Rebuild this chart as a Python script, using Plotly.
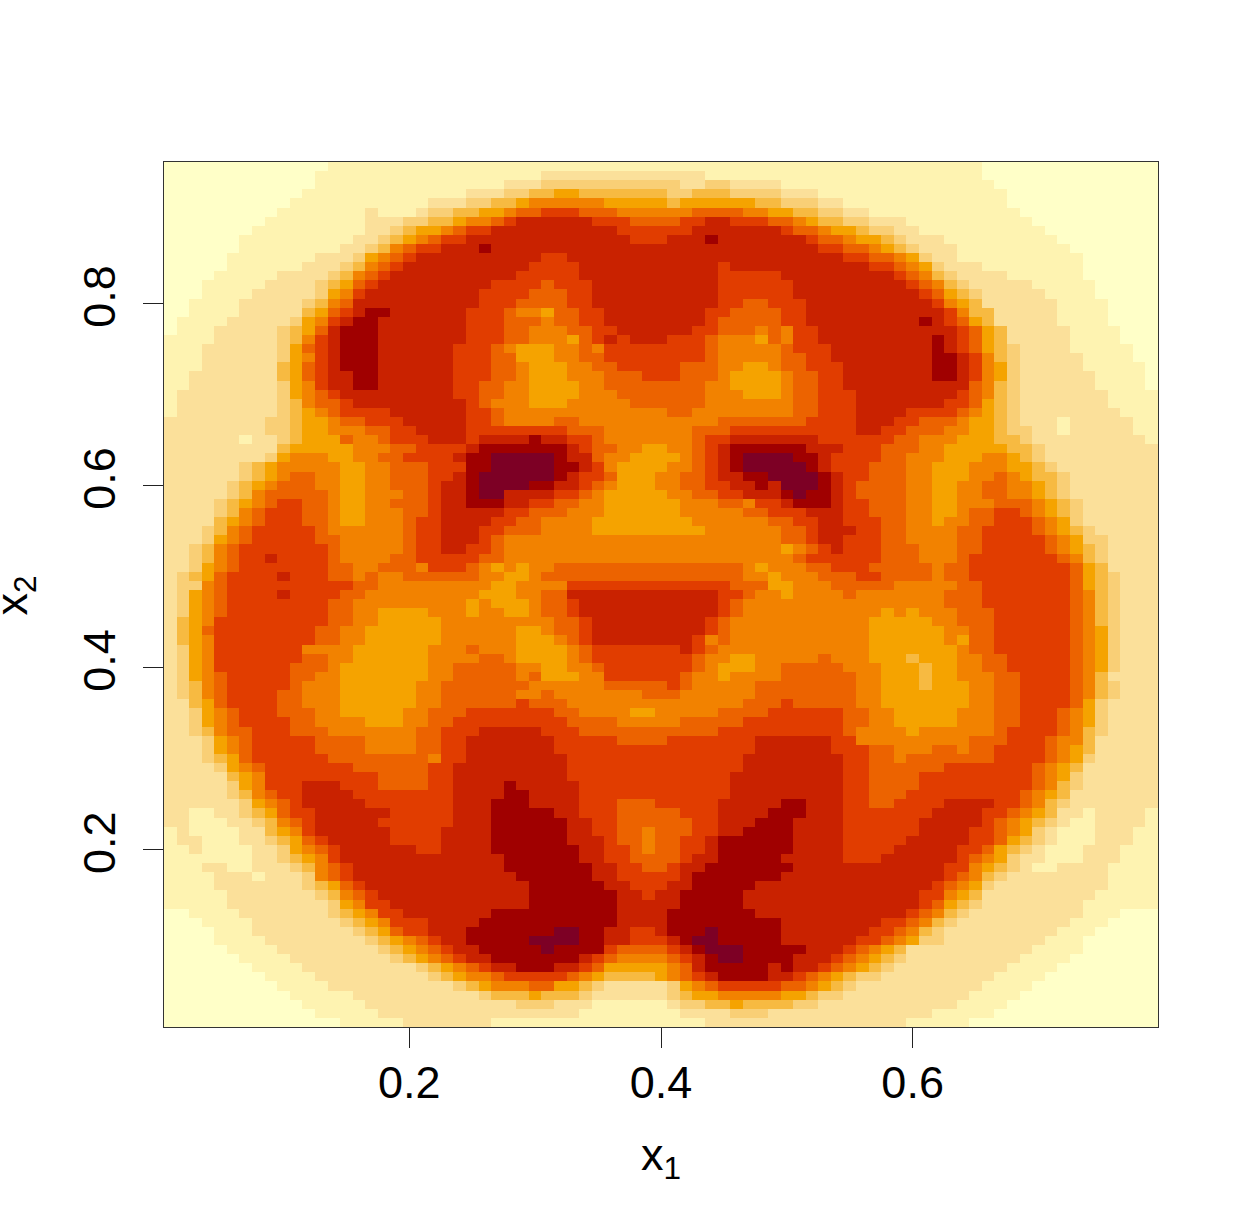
import plotly.graph_objects as go

# colour level per cell, row by row from the top
# each item is "first column:level" (levels 0-9, a, b), a run lasts until the next item
z_runs = [
"0:0 13:1 65:0",
"0:0 12:1 30:2 43:1 65:0",
"0:0 12:1 27:2 30:3 41:2 43:3 45:2 49:1 66:0",
"0:0 11:1 24:2 27:3 29:4 31:5 33:4 40:3 42:4 45:3 49:2 52:1 67:0",
"0:0 10:1 21:2 24:3 26:4 28:5 29:6 35:5 40:4 41:5 47:4 49:3 52:2 54:1 67:0",
"0:0 9:1 16:2 17:1 20:2 21:3 23:4 25:5 27:6 28:7 30:8 33:7 36:6 42:7 46:6 48:5 50:4 52:3 54:2 56:1 68:0",
"0:0 8:1 16:2 19:3 21:4 23:5 24:6 26:7 27:8 28:9 34:8 37:7 41:8 43:9 45:8 48:7 50:6 51:5 52:4 54:3 56:2 59:1 69:0",
"0:0 7:1 16:2 18:3 19:4 20:5 22:6 23:7 24:8 26:9 36:8 42:9 49:8 50:7 52:6 53:5 55:4 56:3 58:2 60:1 70:0",
"0:0 6:1 15:2 17:3 18:4 19:5 20:6 21:7 22:8 24:9 37:8 40:9 43:a 44:9 51:8 52:7 54:6 55:5 57:4 58:3 59:2 62:1 71:0",
"0:0 6:1 14:2 16:3 17:4 18:6 19:7 20:8 22:9 25:a 26:9 52:8 54:7 56:6 57:5 58:4 59:3 60:2 63:1 72:0",
"0:0 5:1 12:2 15:3 16:5 17:6 18:7 19:8 20:9 30:8 32:9 54:8 56:7 58:6 59:5 60:3 61:2 63:1 73:0",
"0:0 5:1 11:2 14:3 15:4 16:6 17:7 18:8 19:9 29:8 33:9 44:8 45:9 56:8 58:7 59:6 60:5 61:3 62:2 65:1 73:0",
"0:0 4:1 9:2 13:3 14:4 15:6 16:7 17:8 18:9 28:8 33:9 44:8 49:9 58:8 59:7 60:6 61:4 62:3 63:2 67:1 73:0",
"0:0 3:1 8:2 12:3 13:4 14:5 15:7 16:8 17:9 26:8 30:7 31:8 34:9 44:8 50:9 59:8 60:7 61:6 62:4 63:3 64:2 69:1 74:0",
"0:0 3:1 7:2 12:3 13:5 14:6 15:8 16:9 25:8 29:7 32:8 34:9 44:8 50:9 60:8 61:7 62:5 63:4 64:3 65:2 70:1 74:0",
"0:0 2:1 6:2 11:3 12:4 13:6 14:7 15:9 25:8 28:7 32:8 34:9 44:8 46:7 48:8 51:9 61:8 62:6 63:5 64:4 65:2 71:1 75:0",
"0:0 2:1 6:2 11:4 12:5 13:7 14:8 15:9 16:a 18:9 24:8 27:7 28:6 30:5 31:7 33:8 35:9 43:8 45:7 49:8 51:9 62:8 63:6 64:4 66:2 71:1 75:0",
"0:0 1:1 5:2 10:3 11:5 12:6 13:8 14:9 15:a 17:9 24:8 27:7 30:6 31:7 33:8 35:9 43:8 44:7 49:8 51:9 60:a 61:9 62:8 63:7 64:5 65:4 66:2 71:1 75:0",
"0:0 1:1 4:2 9:3 10:4 11:5 12:7 13:9 14:a 17:9 24:8 27:7 29:6 32:7 34:8 36:9 42:8 44:7 47:6 48:7 49:6 50:8 52:9 63:8 64:7 65:5 66:4 67:2 72:1 76:0",
"0:1 4:2 9:3 10:4 11:6 12:8 13:9 14:a 17:9 24:8 27:7 29:6 32:5 33:7 34:8 35:9 36:8 37:9 40:8 43:7 44:6 47:5 48:7 49:6 50:8 52:9 61:a 62:9 63:8 64:7 65:5 66:4 67:2 72:1 76:0",
"0:1 3:2 9:3 10:5 11:7 12:8 13:9 14:a 17:9 23:8 26:7 27:6 28:5 31:6 33:7 34:6 35:8 43:7 44:6 49:7 50:8 53:9 61:a 62:9 63:8 64:7 65:5 66:4 67:3 68:2 72:1 77:0",
"0:1 3:2 9:3 10:5 11:6 12:8 13:9 14:a 17:9 23:8 26:7 28:5 31:6 33:7 35:8 43:7 44:6 49:7 51:8 53:9 61:a 63:9 64:8 65:6 66:4 67:3 68:2 73:1 77:0",
"0:1 3:2 9:4 10:5 11:7 12:8 13:9 14:a 17:9 23:8 26:7 28:6 29:5 32:6 34:7 36:8 41:7 44:6 46:5 48:6 49:7 51:8 54:9 61:a 63:9 64:8 65:6 66:5 67:3 68:2 73:1 78:0",
"0:1 2:2 9:4 10:5 11:7 12:8 13:9 15:a 17:9 23:8 26:7 28:6 29:5 32:6 35:7 38:8 41:7 44:6 45:5 49:6 50:7 52:8 54:9 61:a 63:9 64:8 65:6 66:5 67:3 68:2 74:1 78:0",
"0:1 2:2 9:3 10:5 11:6 12:8 13:9 15:a 17:9 23:8 25:7 27:6 29:5 33:6 35:7 43:6 45:5 49:6 50:7 52:8 54:9 64:7 65:6 66:4 67:3 68:2 74:1 78:0",
"0:1 1:2 9:3 10:5 11:6 12:7 13:8 14:9 23:8 25:7 27:6 29:5 33:6 36:7 43:6 46:5 49:6 50:7 52:8 55:9 63:8 64:7 65:6 66:4 67:3 68:2 75:1",
"0:1 1:2 9:3 10:4 11:6 12:7 14:8 15:9 24:8 25:7 26:6 29:5 32:6 37:7 43:6 50:7 52:8 55:9 62:8 64:7 65:5 66:4 67:3 68:2 75:1",
"0:1 1:2 9:3 10:4 11:5 12:6 13:7 14:8 18:9 24:8 26:7 27:6 40:7 42:6 50:7 52:8 55:9 59:8 63:7 64:6 65:5 66:4 67:3 68:2 76:1",
"0:2 8:3 10:4 11:5 13:6 14:7 16:8 19:9 24:8 26:7 27:6 31:7 33:6 44:7 51:8 55:9 58:8 60:7 63:6 64:5 66:4 67:3 68:2 71:1 72:2 77:1",
"0:2 8:3 10:4 11:5 13:6 16:7 18:8 20:9 24:8 32:7 35:6 42:7 45:8 55:9 57:8 59:7 62:6 64:5 66:4 67:3 69:2 71:1 72:2 77:1",
"0:2 6:1 7:2 9:3 10:4 11:5 14:7 15:6 17:7 18:8 21:9 24:8 25:9 29:a 30:9 32:8 34:7 35:6 42:7 43:8 45:9 52:8 58:7 60:6 63:5 66:4 68:3 69:2 78:1",
"0:2 9:4 10:5 15:6 18:7 20:8 24:9 25:a 32:9 33:8 34:7 36:6 38:5 40:6 42:7 43:8 44:9 45:a 51:9 54:8 57:7 60:6 62:5 67:4 69:3 70:2",
"0:2 8:3 9:5 10:6 13:5 15:6 17:7 19:8 23:9 24:a 26:b 31:a 32:9 34:7 35:6 37:5 41:6 42:7 43:8 44:9 45:a 46:b 50:a 52:9 53:8 57:7 59:6 62:5 65:6 67:5 68:4 69:3 70:2",
"0:2 6:3 7:4 8:5 9:6 14:5 16:6 18:7 21:8 24:a 26:b 31:a 33:9 34:8 35:6 36:5 40:6 42:7 43:8 44:9 45:a 46:b 51:a 52:9 53:8 56:7 59:6 61:5 64:6 67:5 69:4 70:3 71:2",
"0:2 6:3 7:4 8:5 9:6 10:7 12:6 14:5 16:6 18:7 21:8 23:9 24:a 25:b 31:a 32:9 33:8 35:7 36:5 39:6 41:7 43:8 44:9 46:a 48:b 52:a 53:9 54:8 56:7 59:6 61:5 64:6 66:7 67:6 68:5 69:4 71:3 72:2",
"0:2 5:3 6:4 7:5 8:6 9:7 12:6 14:5 16:6 18:7 21:8 22:9 24:a 25:b 29:a 31:9 33:8 34:7 35:6 36:5 39:6 41:7 43:8 45:9 47:a 48:9 49:b 52:a 53:9 54:8 55:7 59:6 61:5 63:6 65:7 67:6 69:5 70:4 71:3 72:2",
"0:2 5:3 6:4 7:6 8:7 13:6 14:5 16:6 19:7 21:8 22:9 24:a 25:b 27:9 31:8 33:7 34:6 35:5 40:6 42:7 44:8 46:9 49:a 50:b 51:a 53:9 54:8 55:7 59:6 61:5 63:6 65:7 67:6 69:5 70:4 71:3 72:2",
"0:2 4:3 5:4 6:5 7:6 8:7 9:8 11:7 13:6 14:5 16:6 18:7 21:8 22:9 24:a 27:9 29:8 31:7 33:6 35:5 41:6 44:7 46:6 47:8 49:9 50:a 53:9 54:8 56:7 59:6 61:5 63:6 66:7 69:6 70:5 71:4 72:3 73:2",
"0:2 4:3 5:4 6:6 7:7 8:8 11:7 13:6 14:5 16:6 19:7 21:8 22:9 27:8 29:7 32:6 35:5 41:6 46:7 48:8 51:9 54:8 56:7 59:6 61:5 63:6 64:7 66:8 68:7 69:6 70:5 71:4 72:3 73:2",
"0:2 4:4 5:5 6:6 7:7 8:8 11:7 13:6 14:5 16:6 19:7 20:8 22:9 26:8 28:7 30:6 34:5 42:6 48:7 50:8 52:9 54:8 57:7 59:6 61:5 62:6 64:7 66:8 69:7 70:6 71:5 72:3 73:2",
"0:2 3:3 4:4 5:6 6:7 7:8 12:7 13:6 19:7 20:8 22:9 25:8 27:7 30:6 34:5 43:6 49:7 51:8 52:9 55:8 57:7 59:6 63:7 65:8 69:7 70:6 71:5 72:4 73:3 74:2",
"0:2 3:3 4:5 5:6 6:7 7:8 12:7 14:6 19:7 20:8 22:9 25:8 26:7 27:6 49:7 51:8 52:9 54:8 57:7 59:6 63:7 65:8 70:7 71:6 72:5 73:3 75:2",
"0:2 2:3 3:4 4:6 5:7 6:8 13:7 14:6 19:7 20:8 22:9 24:8 26:7 27:6 49:5 50:6 51:7 52:8 53:9 54:8 57:7 60:6 63:7 65:8 70:7 71:6 72:5 73:4 74:3 75:2",
"0:2 2:3 3:4 4:6 5:7 6:8 8:9 9:8 13:7 14:6 18:7 20:8 25:7 27:6 50:7 51:8 57:7 60:6 63:7 64:8 71:7 72:6 73:4 74:3 75:2",
"0:2 2:3 3:5 4:6 5:7 6:8 13:7 15:6 17:7 20:6 21:8 24:7 25:6 26:5 27:6 28:5 29:6 31:7 46:6 47:5 48:6 51:7 53:8 56:7 61:6 62:7 64:8 72:7 73:5 74:4 75:2",
"0:2 1:3 2:4 3:5 4:7 5:8 9:9 10:8 13:7 15:6 16:7 17:6 19:7 25:6 27:5 29:6 30:7 46:6 48:5 49:6 52:7 55:8 57:7 61:6 62:7 64:8 72:7 73:5 74:4 75:3 76:2",
"0:2 1:3 3:6 4:7 5:8 15:7 17:6 26:5 28:6 32:8 45:7 48:5 50:6 53:7 58:6 63:7 65:8 72:7 73:5 74:4 75:3 76:2",
"0:2 1:3 2:5 3:6 4:7 5:8 9:9 10:8 14:7 16:6 25:5 28:6 30:7 32:9 44:8 46:7 47:6 49:5 50:6 54:7 55:6 62:7 65:8 72:7 73:6 74:4 75:3 76:2",
"0:2 1:3 2:5 3:6 4:7 5:8 13:7 15:6 24:5 25:6 26:5 29:6 30:7 32:8 33:9 44:8 45:7 46:6 62:7 65:8 72:7 73:6 74:4 75:3 76:2",
"0:2 1:3 2:5 3:6 4:7 5:8 13:7 15:6 17:5 21:6 24:5 25:6 27:5 29:6 30:7 32:8 33:9 44:8 45:7 46:6 57:5 58:6 59:5 60:6 63:7 66:8 72:7 73:6 74:4 75:3 76:2",
"0:2 1:4 2:5 3:6 4:8 13:7 15:6 17:5 22:6 31:7 33:8 34:9 43:8 44:7 45:6 56:5 61:6 63:7 66:8 72:7 73:6 74:4 75:3 76:2",
"0:2 1:4 2:5 3:7 4:8 12:7 14:6 16:5 22:6 28:5 30:6 31:7 33:8 34:9 43:8 44:7 45:6 56:5 62:6 64:7 66:8 72:7 73:6 74:5 75:3 76:2",
"0:2 1:4 2:5 3:6 4:8 12:7 14:6 16:5 22:6 28:5 31:6 32:7 33:8 34:9 42:8 43:6 44:7 45:6 56:5 62:6 63:5 64:7 66:8 72:7 73:6 74:5 75:3 76:2",
"0:2 1:3 2:5 3:6 4:8 11:6 15:5 21:6 24:7 25:6 28:5 32:6 33:7 34:8 41:9 42:8 43:7 44:6 56:5 63:6 64:7 66:8 72:7 73:6 74:5 75:3 76:2",
"0:2 1:3 2:5 3:6 4:8 11:7 13:6 15:5 21:6 25:7 27:6 28:5 32:6 33:7 34:8 42:7 43:6 45:5 47:6 52:7 53:6 56:5 59:4 60:5 63:6 65:7 67:8 72:7 73:6 74:5 75:3 76:2",
"0:2 1:3 2:5 3:6 4:8 10:7 13:6 14:5 21:6 23:7 28:6 30:5 32:6 34:7 35:8 42:7 43:6 44:5 47:6 49:7 54:6 57:5 60:4 61:5 63:6 65:7 67:8 72:7 73:6 74:5 75:3 76:2",
"0:2 1:3 2:5 3:6 4:7 5:8 10:7 12:6 14:5 21:6 23:7 28:6 29:7 30:5 33:6 35:8 41:7 42:6 44:5 45:6 49:7 55:6 57:5 60:4 61:5 63:6 66:7 68:8 72:7 73:6 74:4 75:2",
"0:2 1:3 2:4 3:6 4:7 5:8 10:7 11:6 14:5 20:6 22:7 29:6 35:7 40:8 41:7 42:6 47:7 55:6 57:5 60:4 61:5 64:6 66:7 68:8 72:7 73:6 74:4 75:3 76:2",
"0:2 1:3 2:4 3:6 4:7 5:8 9:7 11:6 14:5 20:6 22:7 28:6 30:7 31:6 38:7 41:6 47:7 55:6 57:5 64:6 66:7 68:8 72:7 73:6 74:4 75:3 76:2",
"0:2 2:4 3:5 4:7 5:8 9:7 11:6 14:5 20:6 22:7 28:8 29:7 32:6 46:7 49:8 50:7 55:6 57:5 64:6 66:7 68:8 72:7 73:5 74:3 75:2",
"0:2 2:3 3:5 4:6 5:7 6:8 9:7 12:6 14:5 19:6 21:7 24:8 31:7 33:6 37:5 39:6 44:7 48:8 54:7 56:6 58:5 63:6 66:7 68:8 71:7 72:6 73:5 74:3 75:2",
"0:2 2:3 3:5 4:6 5:7 6:8 10:7 12:6 16:5 19:6 21:7 23:8 32:7 36:6 41:7 46:8 54:7 56:6 58:5 63:6 66:7 68:8 71:7 72:6 73:5 74:3 75:2",
"0:2 2:3 3:4 4:6 5:7 7:8 10:7 13:6 20:7 22:8 25:9 30:8 33:7 44:8 54:7 55:6 59:5 60:6 66:7 67:8 71:7 72:6 73:4 74:3 75:2",
"0:2 3:3 4:5 5:6 6:7 7:8 12:7 16:6 20:7 22:8 24:9 31:8 36:7 40:8 47:9 53:8 55:6 64:7 67:8 70:7 71:6 73:4 74:2",
"0:2 3:3 4:5 5:6 6:7 7:8 12:7 16:6 20:7 22:8 24:9 31:8 47:9 53:8 56:7 58:6 61:7 63:6 64:7 66:8 70:7 71:6 72:5 73:4 74:2",
"0:2 3:3 4:4 5:5 6:7 7:8 13:7 21:6 22:8 24:9 32:8 46:9 54:8 56:7 58:6 59:7 66:8 70:7 71:6 72:5 73:3 74:2",
"0:2 4:3 5:5 6:6 7:7 8:8 15:7 21:8 23:9 32:8 46:9 54:8 56:7 62:8 69:7 70:6 71:5 72:4 73:2",
"0:2 5:4 6:5 7:6 8:8 17:7 21:8 23:9 32:8 45:9 54:8 56:7 60:8 69:7 70:6 71:5 72:3 73:2",
"0:2 5:3 6:5 7:6 8:8 11:9 14:8 17:7 21:8 23:9 27:a 28:9 33:8 45:9 54:8 56:7 60:8 69:7 70:6 71:4 72:3 73:2",
"0:2 5:3 6:4 7:6 8:7 9:8 11:9 15:8 23:9 27:a 29:9 33:8 45:9 54:8 56:7 59:8 68:7 69:6 70:5 71:4 72:2",
"0:2 6:3 7:5 8:6 9:7 10:8 11:9 16:8 23:9 26:a 29:9 33:8 36:7 39:8 44:9 49:a 51:9 54:8 56:7 58:8 62:9 66:8 68:7 69:6 70:4 71:3 72:2",
"0:2 2:1 4:2 6:3 7:4 8:5 9:7 10:8 12:9 18:8 23:9 26:a 31:9 33:8 36:7 41:8 44:9 48:a 51:9 54:8 61:9 65:8 67:7 68:6 69:5 70:4 71:2 73:1 74:2 78:1",
"0:2 2:1 5:2 7:3 8:4 9:6 10:7 11:8 12:9 17:8 23:9 26:a 32:9 34:8 36:7 42:8 44:9 47:a 50:9 54:8 60:9 65:8 66:7 67:6 68:5 69:4 70:3 71:2 72:1 74:2 78:1",
"0:1 1:2 2:1 6:2 8:4 9:5 10:6 11:8 12:9 18:8 22:9 26:a 32:9 34:8 36:7 38:6 39:7 42:8 44:9 46:a 50:9 54:8 60:9 64:8 66:7 67:6 68:5 69:3 70:2 71:1 74:2 77:1",
"0:1 1:2 3:1 6:2 8:3 9:4 10:5 11:7 12:8 13:9 18:8 22:9 26:a 32:9 35:8 36:7 38:6 39:7 41:8 43:9 44:a 50:9 54:8 59:9 64:8 66:7 67:5 68:4 69:3 70:2 71:1 74:2 77:1",
"0:1 2:2 3:1 7:2 9:3 10:5 11:6 12:7 13:8 14:9 20:8 22:9 26:a 33:9 35:8 37:7 38:6 39:7 41:8 43:9 44:a 50:9 54:8 58:9 63:8 65:7 66:5 67:4 68:3 69:2 70:1 73:2 76:1",
"0:1 7:2 9:3 10:4 11:5 12:6 13:8 14:9 27:a 33:9 35:8 37:7 41:8 42:9 44:a 49:9 54:8 57:9 63:8 64:7 65:6 66:5 67:3 68:2 70:1 73:2 76:1",
"0:1 3:2 5:1 7:2 10:3 11:4 12:6 13:7 14:8 15:9 27:a 34:9 36:8 38:7 40:8 41:9 43:a 50:9 62:8 64:6 65:5 66:4 67:3 68:2 69:1 71:2 75:1",
"0:1 4:2 7:1 8:2 11:3 12:6 13:7 14:8 15:9 28:a 34:9 36:8 41:9 42:a 49:9 62:8 63:7 64:6 65:4 66:3 67:2 75:1",
"0:1 4:2 11:3 12:4 13:5 14:7 15:8 16:9 29:a 35:9 37:8 40:9 42:a 47:9 61:8 62:7 63:6 64:5 65:3 66:2 75:1",
"0:1 5:2 12:3 13:4 14:6 15:7 16:8 17:9 29:a 36:9 38:8 39:9 41:a 46:9 60:8 62:6 63:5 64:4 65:2 74:1",
"0:1 5:2 13:3 14:5 15:6 16:8 18:9 29:a 36:9 41:a 46:9 60:8 61:7 62:5 63:4 64:3 65:2 73:1",
"0:0 2:1 6:2 13:3 14:4 15:5 16:6 17:8 19:9 26:a 36:9 40:a 47:9 59:8 60:7 61:6 62:4 63:3 64:2 73:1 76:0",
"0:0 3:1 7:2 14:3 15:4 16:5 17:6 18:8 21:9 25:a 36:9 40:a 49:9 57:8 59:7 60:6 61:4 62:3 63:2 72:1 75:0",
"0:0 4:1 7:2 15:3 16:4 17:5 18:7 19:8 21:9 24:a 31:b 33:a 35:9 37:8 39:9 40:a 43:b 44:a 49:9 56:8 58:7 59:6 60:4 61:3 62:2 71:1 74:0",
"0:0 4:1 8:2 16:3 17:4 18:5 19:6 20:7 21:8 22:9 24:a 29:b 33:a 35:9 37:8 40:9 41:a 42:b 44:a 49:9 55:8 57:7 58:6 59:5 60:3 62:2 70:1 73:0",
"0:0 5:1 9:2 17:3 18:4 19:5 20:6 21:7 22:8 23:9 25:a 30:b 31:a 35:8 36:7 40:8 41:9 42:a 43:b 46:a 51:9 54:8 55:7 56:6 57:5 58:4 59:2 69:1 73:0",
"0:0 6:1 10:2 18:3 19:4 20:5 21:6 22:7 23:8 24:9 26:a 33:9 34:8 35:7 36:6 40:7 41:8 42:9 43:a 44:b 46:a 50:9 53:8 54:7 55:6 56:5 57:4 58:3 59:2 68:1 72:0",
"0:0 7:1 11:2 20:3 21:4 22:5 23:6 24:7 25:8 26:9 28:a 31:9 33:8 34:7 35:5 40:6 41:7 42:9 43:a 48:9 49:a 50:9 52:8 53:7 54:6 55:5 56:4 57:3 58:2 67:1 71:0",
"0:0 8:1 12:2 21:3 22:4 23:5 24:6 26:7 27:8 32:7 33:6 34:5 35:4 39:5 40:6 41:7 42:8 43:9 44:a 48:9 50:8 51:7 52:6 53:5 54:4 55:3 57:2 66:1 70:0",
"0:0 9:1 13:2 23:3 24:4 25:5 26:6 29:7 31:5 33:4 34:3 35:2 40:3 41:5 42:6 43:7 44:8 49:7 51:6 52:5 53:4 54:3 55:2 65:1 69:0",
"0:0 10:1 15:2 25:3 26:4 29:5 30:4 33:3 34:2 40:3 41:4 42:5 44:6 49:5 51:4 52:3 54:2 64:1 68:0",
"0:0 11:1 16:2 28:3 31:2 34:1 40:2 41:3 43:4 45:5 46:4 50:3 52:2 63:1 67:0",
"0:0 12:1 17:2 33:1 41:2 45:3 48:2 61:1 66:0",
"0:0 14:1 19:2 26:1 43:2 59:1 64:0",
]

x_centres = [round(0.01 * (i + 1), 2) for i in range(79)]
y_centres = [round(0.95 - 0.01 * j, 2) for j in range(95)]

level_colours = ["#FFFFC8", "#FEF3B1", "#FBE09A", "#F9CF76", "#F7BA41", "#F5A300",
                 "#F28200", "#EC6300", "#E13D00", "#C92200", "#A00000", "#7D0025"]
x_ticks = [0.2, 0.4, 0.6]
y_ticks = [0.2, 0.4, 0.6, 0.8]

z_levels = []
for row in z_runs:
    items = [item.split(":") for item in row.split()]
    cells = [0] * 79
    for n, (start, level) in enumerate(items):
        end = int(items[n + 1][0]) if n + 1 < len(items) else 79
        for c in range(int(start), end):
            cells[c] = int(level, 16)
    z_levels.append(cells)

n_levels = len(level_colours)
colourscale = []
for i, c in enumerate(level_colours):
    colourscale.append([i / n_levels, c])
    colourscale.append([(i + 1) / n_levels, c])

fig = go.Figure(go.Heatmap(x=x_centres, y=y_centres, z=z_levels, colorscale=colourscale,
                           zmin=-0.5, zmax=n_levels - 0.5, showscale=False))

axis_font = dict(family="Liberation Sans, Arial, sans-serif", size=45, color="black")
fig.update_xaxes(range=[0.005, 0.795], tickvals=x_ticks, ticktext=["0.2", "0.4", "0.6"],
                 ticks="outside", ticklen=20, tickwidth=1.4, tickcolor="#222", ticklabelstandoff=-4,
                 showline=True, linecolor="#333", linewidth=1.4, mirror=True,
                 showgrid=False, zeroline=False, tickfont=axis_font)
fig.update_yaxes(range=[0.005, 0.955], tickvals=y_ticks, ticktext=["0.2", "0.4", "0.6", "0.8"],
                 ticks="outside", ticklen=20, tickwidth=1.4, tickcolor="#222", tickangle=-90,
                 ticklabelstandoff=10,
                 showline=True, linecolor="#333", linewidth=1.4, mirror=True,
                 showgrid=False, zeroline=False, tickfont=axis_font)
# axis names as annotations, an axis title would push the plot area
fig.add_annotation(text="x<sub>1</sub>", xref="paper", yref="paper", x=0.5, y=0, yshift=-130,
                   xanchor="center", yanchor="middle", showarrow=False, font=axis_font)
fig.add_annotation(text="x<sub>2</sub>", xref="paper", yref="paper", x=0, y=0.5, xshift=-150, yshift=-1,
                   xanchor="center", yanchor="middle", textangle=-90, showarrow=False, font=axis_font)
fig.update_layout(width=1231, height=1223, autosize=False, plot_bgcolor="white", paper_bgcolor="white",
                  margin=dict(l=164, r=73, t=162, b=196), showlegend=False)

# no default page margin, the y axis name sits close to the window edge
fig.write_html("out.html", config={"displayModeBar": False},
               post_script="document.body.style.margin='0';")
